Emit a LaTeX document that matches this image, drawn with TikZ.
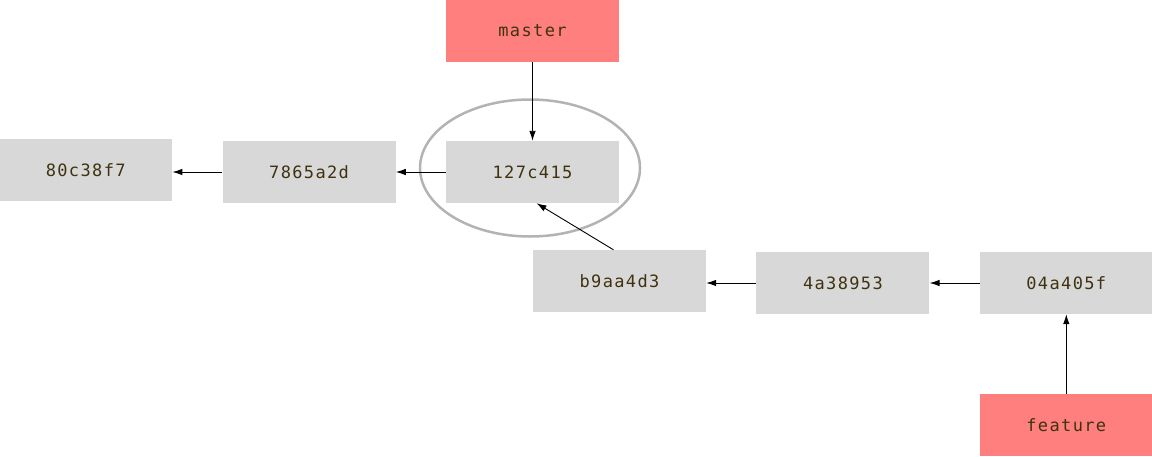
\documentclass[tikz,border=0pt]{standalone}
\usepackage{fontspec}
\usepackage{tikz}
\usetikzlibrary{arrows.meta,positioning,shapes.geometric}
\newfontfamily\hashfont[LetterSpace=8]{DejaVu Sans Mono}
\definecolor{commitgray}{HTML}{D8D8D8}
\definecolor{branchred}{HTML}{FF7F7F}
\definecolor{hashtext}{HTML}{3F3210}
\definecolor{ringgray}{HTML}{B3B3B3}

\begin{document}
\begin{tikzpicture}[
  x=1pt, y=-1pt,
  font=\hashfont\fontsize{17}{19}\selectfont,
  >={Latex[length=10pt,width=6.5pt]},
  commit/.style={
    fill=commitgray,
    text=hashtext,
    minimum width=173pt,
    minimum height=62pt,
    inner sep=0pt
  },
  branch/.style={commit, fill=branchred},
  arr/.style={->, line width=0.9pt, draw=black}
]
\useasboundingbox (0,0) rectangle (1152,456);

% ===== main line =====
\node[commit] (c3) at (532.5,172) {127c415};
\node[commit, left=50pt of c3]            (c2) {7865a2d};
\node[commit, left=50pt of c2, yshift=2pt] (c1) {80c38f7};

% ===== feature line =====
\node[commit] (c4) at (619.5,281) {b9aa4d3};
\node[commit, right=50pt of c4, yshift=-2pt] (c5) {4a38953};
\node[commit, right=50pt of c5]              (c6) {04a405f};

% ===== branch labels =====
\node[branch, above=79pt of c3] (master) {master};
\node[branch, below=80pt of c6] (feature) {feature};

% ===== highlight =====
\node[ellipse, draw=ringgray, line width=2.5pt, minimum width=220pt,
      minimum height=137pt] (ring) at (530,168) {};

\draw[arr] (c2.west) -- (c2.west -| c1.east);
\draw[arr] (c3) -- (c2);
\draw[arr] ([xshift=-6pt]c4.north) -- ([xshift=4pt]c3.south);
\draw[arr] (c6) -- (c5);
\draw[arr] (c5.west) -- (c5.west -| c4.east);

\draw[arr] (master) -- (c3);
\draw[arr] (feature) -- (c6);

\end{tikzpicture}
\end{document}
